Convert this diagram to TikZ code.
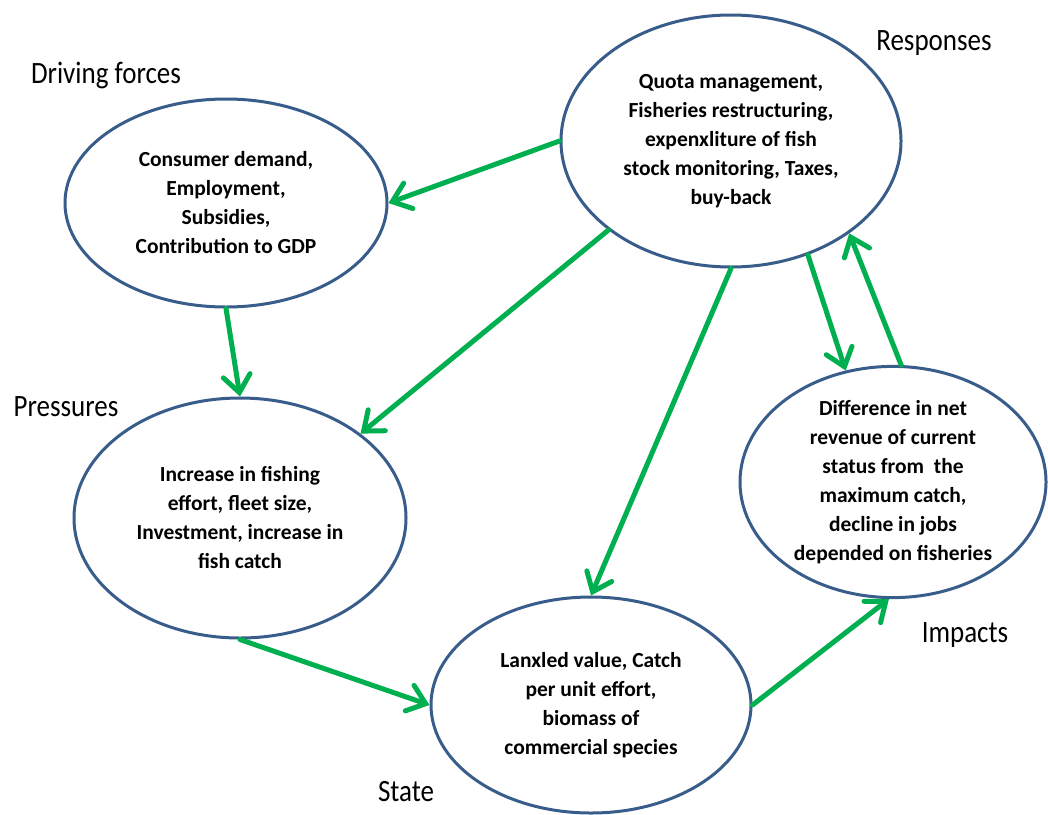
\documentclass[tikz,border=0pt]{standalone}
\usepackage{fontspec}
\usepackage{graphicx}
\setmainfont{Carlito}
\usetikzlibrary{shapes.geometric,arrows.meta}
\definecolor{ellblue}{RGB}{56,93,138}
\definecolor{arrgreen}{RGB}{0,176,80}
\newcommand{\vstretch}[1]{\scalebox{1}[1.15]{#1}}
\tikzset{
  dpsir/.style={ellipse, draw=ellblue, line width=3pt, fill=white, inner sep=0pt,
    align=center, font=\fontsize{21.5}{29}\selectfont\bfseries},
  cat/.style={font=\fontsize{27}{30}\selectfont, inner sep=0pt},
  flow/.style={draw=arrgreen, line width=5pt, line cap=round,
    -{Straight Barb[length=17pt,width=27pt,line cap=round]}},
}
\begin{document}
\begin{tikzpicture}[x=1pt,y=-1pt]
\useasboundingbox[fill=white] (0,0) rectangle (1048,814);
% ellipses
\node[dpsir, minimum width=340pt, minimum height=252pt] (resp) at (731,141)
  {Quota management,\\ Fisheries restructuring,\\ expenxliture of fish\\ stock monitoring, Taxes,\\ buy-back};
\node[dpsir, minimum width=322pt, minimum height=208pt] (drive) at (226,203)
  {Consumer demand,\\ Employment,\\ Subsidies,\\ Contribution to GDP};
\node[dpsir, minimum width=332pt, minimum height=240pt] (press) at (240,518)
  {Increase in fishing\\ effort, fleet size,\\ Investment, increase in\\ fish catch};
\node[dpsir, minimum width=306pt, minimum height=228pt] (impact) at (893,482)
  {Difference in net\\ revenue of current\\ status from\ \ the\\ maximum catch,\\ decline in jobs\\ depended on fisheries};
\node[dpsir, minimum width=320pt, minimum height=216pt] (state) at (591,705)
  {Lanxled value, Catch\\ per unit effort,\\ biomass of\\ commercial species};
% category labels
\node[cat] (ldrive) at (106,75) {\vstretch{Driving forces}};
\node[cat] (lresp) at (934,43) {\vstretch{Responses}};
\node[cat] (lpress) at (66,407) {\vstretch{Pressures}};
\node[cat] (lstate) at (406,792) {\vstretch{State}};
\node[cat] (limpact) at (965,635) {\vstretch{Impacts}};
% connectors
\draw[flow] (resp.180) -- (drive.0);
\draw[flow] (drive.270) -- (press.90);
\draw[flow] (resp.216.8) -- (press.35.8);
\draw[flow] (resp.270) -- (state.90);
\draw[flow] (resp.304.3) -- (impact.113.7);
\draw[flow] (impact.86.5) -- (resp.322.9);
\draw[flow] (press.270) -- (state.180);
\draw[flow] (state.0) -- (impact.268);
\end{tikzpicture}
\end{document}
